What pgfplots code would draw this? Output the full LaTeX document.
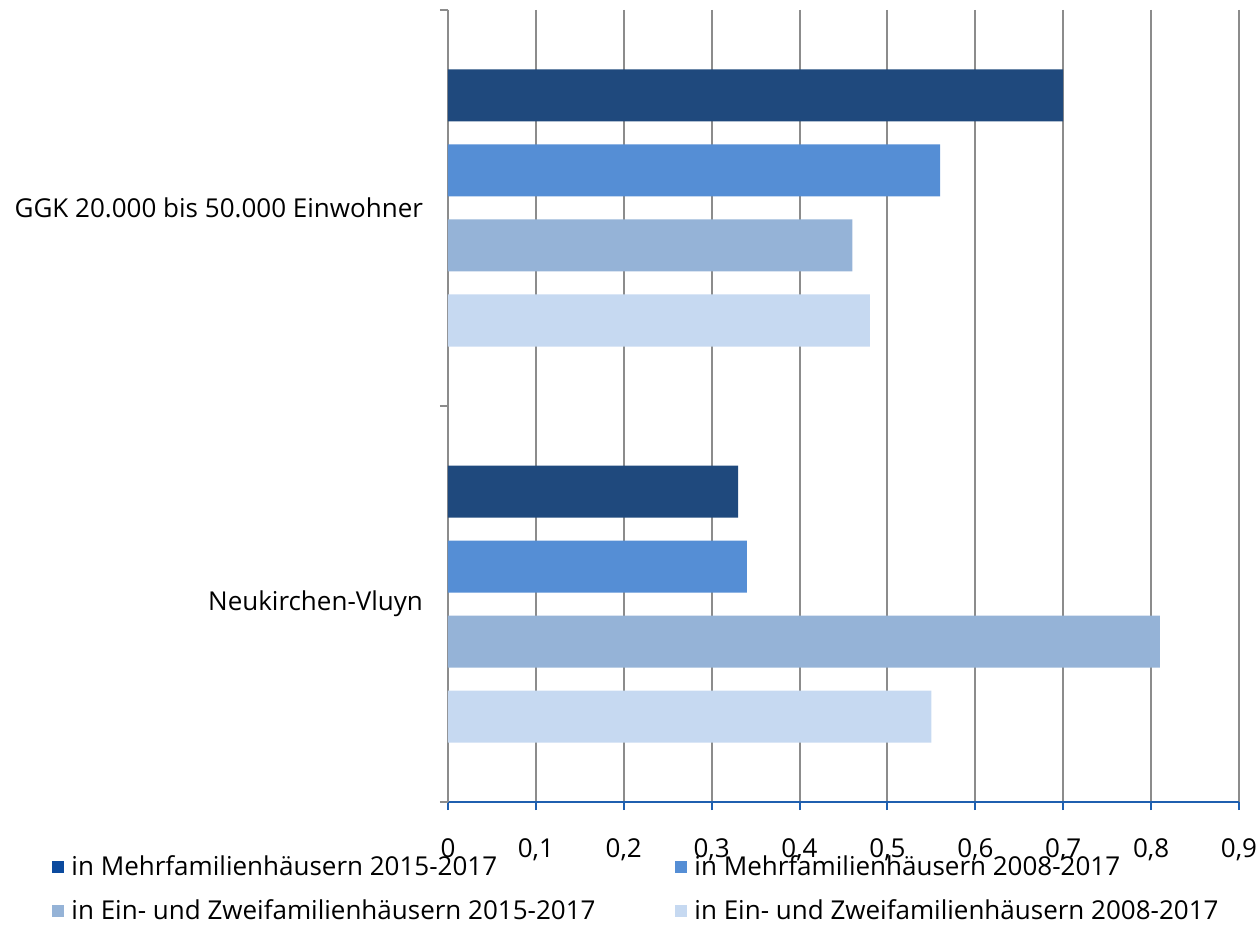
\documentclass[border=0pt]{standalone}
\usepackage{pgfplots}
\pgfplotsset{compat=1.18}
\usepackage{fontspec}
\setmainfont{Open Sans}

\definecolor{barA}{HTML}{1F497D}
\definecolor{barB}{HTML}{558ED5}
\definecolor{barC}{HTML}{95B3D7}
\definecolor{barD}{HTML}{C6D9F1}
\definecolor{legA}{HTML}{0B4A9E}
\definecolor{gridc}{HTML}{8C8C8C}
\definecolor{xaxc}{HTML}{1F5FAF}

\begin{document}
\begin{tikzpicture}
\begin{axis}[
  at={(0,0)}, anchor=south west,
  scale only axis,
  width=395.5pt, height=396pt,
  xbar, bar width=26pt,
  xmin=0, xmax=0.9,
  ymin=-0.5, ymax=1.5,
  y dir=reverse,
  xtick={0,0.1,...,0.9},
  xticklabels={0,{0,1},{0,2},{0,3},{0,4},{0,5},{0,6},{0,7},{0,8},{0,9}},
  xticklabel style={font=\fontsize{13}{15}\selectfont, yshift=-11pt},
  ytick={-0.5,0.5,1.5},
  yticklabels={},
  extra y ticks={0,1},
  extra y tick labels={GGK 20.000 bis 50.000 Einwohner,Neukirchen-Vluyn},
  extra y tick style={major tick length=0pt, grid=none,
    yticklabel style={font=\fontsize{13}{15}\selectfont, xshift=-9pt}},
  axis x line*=bottom,
  axis y line*=left,
  x axis line style={xaxc, line width=1pt},
  y axis line style={gridc, line width=1pt},
  xtick style={xaxc, line width=1pt},
  ytick style={gridc, line width=1pt},
  tick align=outside,
  major tick length=4pt,
  xmajorgrids,
  major grid style={gridc, line width=1pt},
  legend columns=2,
  legend cell align=left,
  legend style={draw=none, fill=none, at={(axis description cs:-0.5005,-0.062)}, anchor=north west,
    font=\fontsize{13}{15}\selectfont, inner sep=0pt,
    /tikz/every odd column/.append style={column sep=1.5pt},
    row sep=6.5pt},
  legend image code/.code={\fill[#1] (0pt,-3pt) rectangle (6pt,3pt);},
]
\addplot[draw=none, fill=barA, bar shift=56.25pt, legend image post style={fill=legA}]
  coordinates {(0.70,0) (0.33,1)};
\addlegendentry{\makebox[300pt][l]{in Mehrfamilienhäusern 2015-2017}}
\addplot[draw=none, fill=barB, bar shift=18.75pt]
  coordinates {(0.56,0) (0.34,1)};
\addlegendentry{in Mehrfamilienhäusern 2008-2017}
\addplot[draw=none, fill=barC, bar shift=-18.75pt]
  coordinates {(0.46,0) (0.81,1)};
\addlegendentry{\makebox[300pt][l]{in Ein- und Zweifamilienhäusern 2015-2017}}
\addplot[draw=none, fill=barD, bar shift=-56.25pt]
  coordinates {(0.48,0) (0.55,1)};
\addlegendentry{in Ein- und Zweifamilienhäusern 2008-2017}
\end{axis}
% fixed frame: 1259x946 px at 0.5pt/px
\pgfresetboundingbox
\path (-224pt,-72pt) rectangle (405.5pt,401pt);
\end{tikzpicture}
\end{document}
